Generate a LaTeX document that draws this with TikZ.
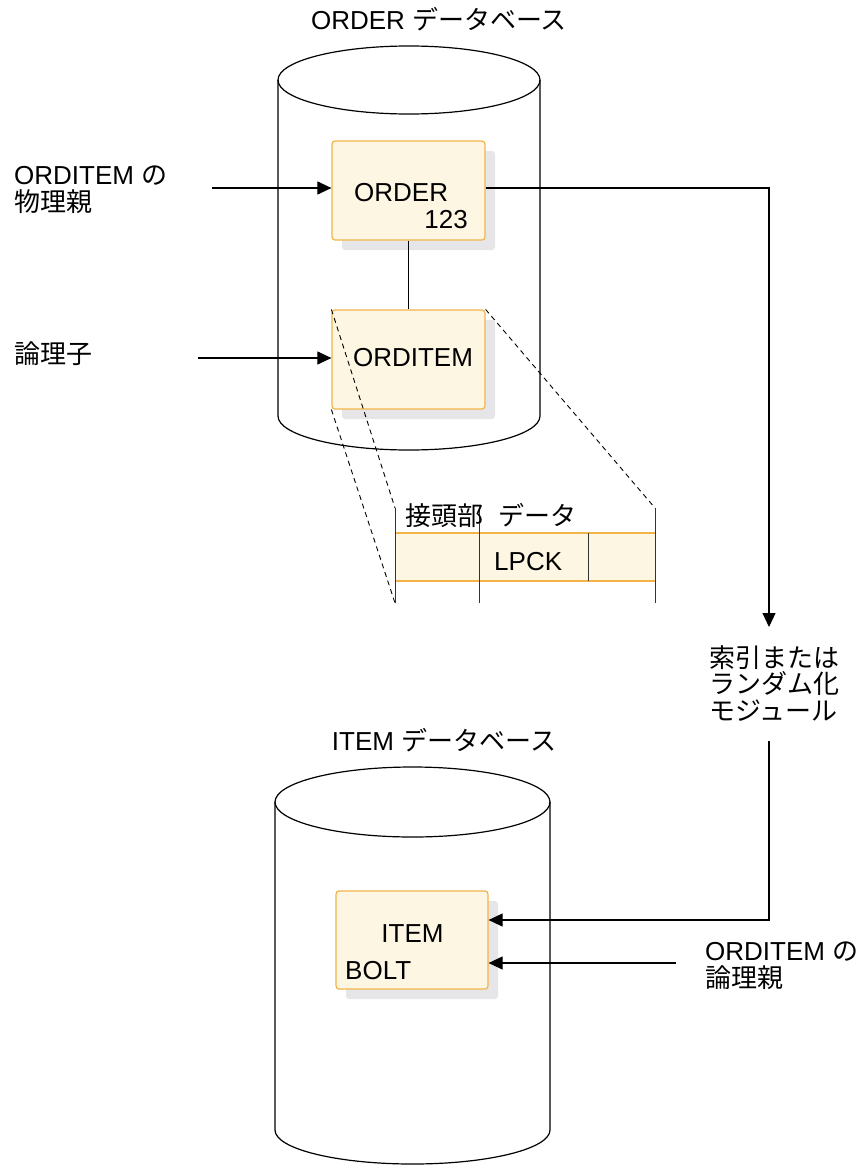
\documentclass[tikz,border=0pt]{standalone}
\usepackage{fontspec}
\setmainfont{Liberation Sans}
\newfontfamily\jpfont{Noto Sans CJK JP}
\usetikzlibrary{arrows.meta,shadows}
\definecolor{boxfill}{HTML}{FDF6E3}
\definecolor{boxline}{HTML}{F2B449}
\definecolor{boxshadow}{HTML}{E6E6E8}
\newcommand{\ja}[1]{{\jpfont #1}}
\tikzset{
  dbline/.style={line width=1.2pt},
  seg/.style={draw=boxline, fill=boxfill, line width=1.2pt, rounded corners=3pt,
    drop shadow={shadow xshift=10pt, shadow yshift=-10pt, fill=boxshadow, opacity=1}},
  txt/.style={inner sep=0pt, font=\fontsize{26}{26.5}\selectfont},
  arr/.style={line width=1.1pt, -{Triangle[length=14pt,width=13pt]}},
  zoomline/.style={line width=0.9pt, dash pattern=on 5pt off 4pt},
}
\begin{document}
\begin{tikzpicture}[x=1pt, y=-1pt]
    \useasboundingbox (0,0) rectangle (859,1167);

    % ORDER データベース
    \draw[dbline] (409,80) ellipse [x radius=131pt, y radius=34pt];
    \draw[dbline] (278,80) -- (278,416) arc [start angle=180, end angle=360, x radius=131pt, y radius=34pt] -- (540,80);
    \node[txt, anchor=base] (orderdb) at (439,29) {ORDER \ja{データベース}};

    \node[seg, minimum width=153pt, minimum height=99pt] (order) at (408.5,190.5) {};
    \node[txt, anchor=base west] (orderT) at (354,201) {ORDER};
    \node[txt, anchor=base east] (orderN) at (468,228) {123};
    \node[seg, minimum width=153pt, minimum height=99pt] (orditem) at (408.5,359.5) {};
    \node[txt, anchor=base] (orditemT) at (413,366) {ORDITEM};
    \draw[line width=1.1pt] (order) -- (orditem);

    % セグメントの形式
    \fill[boxfill] (395,533) rectangle (655,581);
    \draw[boxline, line width=1.8pt] (395,533) -- (655,533) (395,581) -- (655,581);
    \foreach \x in {395,479,655} {
        \draw[black!80, line width=0.9pt] (\x,508) -- (\x,603);
    }
    \draw[black!80, line width=0.9pt] (588,533) -- (588,581);
    \coordinate (recTL) at (395,508);
    \coordinate (recBL) at (395,603);
    \coordinate (recTR) at (655,508);
    \draw[zoomline] (orditem.north west) -- (recTL);
    \draw[zoomline] (orditem.south west) -- (recBL);
    \draw[zoomline] (orditem.north east) -- (recTR);
    \node[txt, anchor=base west] (prefix) at (405,525) {\ja{接頭部}};
    \node[txt, anchor=base west] (data) at (498,525) {\ja{データ}};
    \node[txt, anchor=base west] (lpck) at (494,570) {LPCK};

    % 左のラベル
    \node[txt, align=left, anchor=base west] (physL) at (14,211) {ORDITEM \ja{の}\\\ja{物理親}};
    \node[txt, anchor=base west] (logL) at (14,363) {\ja{論理子}};
    \coordinate (physIn) at (212,188);
    \coordinate (logIn) at (198,358);
    \draw[arr] (physIn) -- (physIn -| order.west);
    \draw[arr] (logIn) -- (logIn -| orditem.west);

    % 索引またはランダム化モジュール
    \node[txt, align=left, anchor=base west] (modL) at (709,720) {\ja{索引または}\\\ja{ランダム化}\\\ja{モジュール}};
    \coordinate (turnA) at (769,188);
    \coordinate (modIn) at (769,627);
    \coordinate (modOut) at (769,741);
    \coordinate (turnB) at (769,920);
    \draw[arr] (turnA -| order.east) -- (turnA) -- (modIn);

    % ITEM データベース
    \draw[dbline] (412.5,802) ellipse [x radius=137.5pt, y radius=35pt];
    \draw[dbline] (275,802) -- (275,1130) arc [start angle=180, end angle=360, x radius=137.5pt, y radius=34pt] -- (550,802);
    \node[txt, anchor=base] (itemdb) at (444,750) {ITEM \ja{データベース}};

    \node[seg, minimum width=152pt, minimum height=98pt] (item) at (412,940) {};
    \node[txt, anchor=base] (itemT) at (412.5,942) {ITEM};
    \node[txt, anchor=base west] (itemB) at (345,979) {BOLT};

    \node[txt, align=left, anchor=base west] (lparL) at (705,987) {ORDITEM \ja{の}\\\ja{論理親}};
    \coordinate (lparIn) at (676,963);
    \draw[arr] (modOut) -- (turnB) -- (turnB -| item.east);
    \draw[arr] (lparIn) -- (lparIn -| item.east);

\end{tikzpicture}
\end{document}
